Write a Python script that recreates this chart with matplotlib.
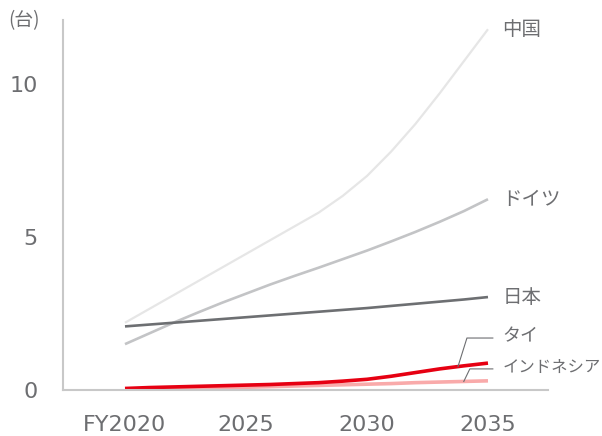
import numpy as np
import matplotlib
matplotlib.use("Agg")
import matplotlib.pyplot as plt

plt.rcParams['font.family'] = ['Noto Sans CJK JP', 'DejaVu Sans']

# data (units of 台)
years = [2020, 2021, 2022, 2023, 2024, 2025, 2026, 2027, 2028, 2029,
         2030, 2031, 2032, 2033, 2034, 2035]
china = [2.2, 2.65, 3.1, 3.55, 4.0, 4.45, 4.9, 5.35, 5.8, 6.35,
         7.0, 7.8, 8.7, 9.7, 10.75, 11.8]
germany = [1.5, 1.85, 2.2, 2.53, 2.85, 3.15, 3.45, 3.73, 4.0, 4.28,
           4.56, 4.86, 5.17, 5.5, 5.85, 6.24]
japan = [2.08, 2.14, 2.2, 2.26, 2.32, 2.38, 2.44, 2.5, 2.56, 2.62,
         2.68, 2.75, 2.82, 2.89, 2.96, 3.04]
thai = [0.05, 0.08, 0.1, 0.12, 0.14, 0.16, 0.18, 0.21, 0.24, 0.29,
        0.35, 0.45, 0.57, 0.69, 0.79, 0.88]
indonesia = [0.0, 0.02, 0.04, 0.05, 0.07, 0.09, 0.11, 0.13, 0.15, 0.17,
             0.19, 0.21, 0.24, 0.26, 0.28, 0.3]

xticks = [2020, 2025, 2030, 2035]
xticklabels = ['FY2020', '2025', '2030', '2035']
yticks = [0, 5, 10]
yticklabels = ['0', '5', '10']

txt = '#6d6e71'

fig = plt.figure(figsize=(6.02, 4.36), dpi=100)
ax = fig.add_axes([0.1047, 0.1055, 0.8056, 0.8485])

ax.plot(years, china, color='#e6e6e6', lw=1.6, solid_capstyle='butt')
ax.plot(years, germany, color='#c3c4c6', lw=1.9, solid_capstyle='butt')
ax.plot(years, japan, color='#6d6f72', lw=1.9, solid_capstyle='butt')
ax.plot(years, indonesia, color='#f9aaaa', lw=2.6, solid_capstyle='butt')
ax.plot(years, thai, color='#e60012', lw=2.6, solid_capstyle='butt')

ax.set_xlim(2017.44, 2037.48)
ax.set_ylim(0, 12.1)

for s in ['top', 'right']:
    ax.spines[s].set_visible(False)
for s in ['left', 'bottom']:
    ax.spines[s].set_color('#c8c8c8')
    ax.spines[s].set_linewidth(1.5)

ax.set_xticks(xticks)
ax.set_xticklabels(xticklabels, fontfamily='DejaVu Sans', fontsize=16)
ax.set_yticks(yticks)
ax.set_yticklabels(yticklabels, fontfamily='DejaVu Sans', fontsize=16)
ax.tick_params(length=0, colors=txt)
ax.tick_params(axis='y', pad=18)
ax.tick_params(axis='x', pad=18)

# end labels
lx = 2035.6
for name, vals in [('中国', china), ('ドイツ', germany), ('日本', japan)]:
    ax.text(lx, vals[-1], name, fontsize=14, color=txt, va='center', ha='left')

# leader lines for the small series
for name, vals, ax_year, elbow_year, elbow_y, dy, fs in [
        ('タイ', thai, 2033.76, 2034.13, 1.70, 0.05, 13),
        ('インドネシア', indonesia, 2034.0, 2034.25, 0.69, 0.06, 11.8)]:
    ay = np.interp(ax_year, years, vals)
    ax.plot([ax_year, elbow_year, 2035.2], [ay, elbow_y, elbow_y],
            color=txt, lw=0.8)
    ax.text(lx, elbow_y + dy, name, fontsize=fs, color=txt,
            va='center', ha='left')

fig.text(0.013, 0.953, '(台)', fontsize=13.5, color=txt, va='center', ha='left')

fig.savefig('out.png', dpi=100)
